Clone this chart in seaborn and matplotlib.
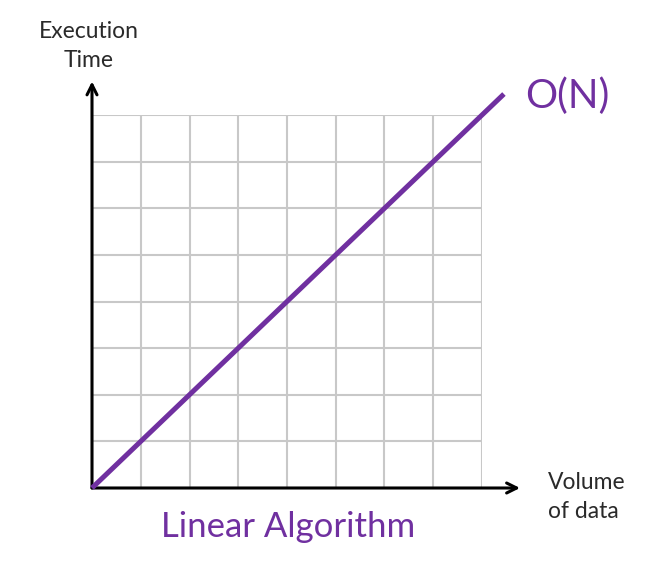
import matplotlib
matplotlib.use("Agg")
import matplotlib.pyplot as plt
import seaborn as sns
import pandas as pd

# data
volume = [0, 8.45]
exec_time = [0, 8.45]
grid_ticks = [0, 1, 2, 3, 4, 5, 6, 7, 8]

sns.set_style("white")
plt.rcParams['font.family'] = ['Lato', 'DejaVu Sans']

purple = "#7030a0"
W, H = 652, 566
fig = plt.figure(figsize=(W / 100, H / 100), dpi=100)
ax = fig.add_axes([92 / W, 1 - 488 / H, (482 - 92) / W, (488 - 115) / H])
ax.set_xlim(0, 8)
ax.set_ylim(0, 8)

for t in grid_ticks:
    ax.axvline(t, color="#c8c8c8", lw=1.5, zorder=1)
    ax.axhline(t, color="#c8c8c8", lw=1.5, zorder=1)

df = pd.DataFrame({"volume": volume, "time": exec_time})
sns.lineplot(data=df, x="volume", y="time", color=purple, lw=3.6, ax=ax,
             clip_on=False, zorder=4, solid_capstyle="butt")

# axes arrows
ax.annotate("", xy=(0, 8.72), xytext=(0, 0), annotation_clip=False,
            arrowprops=dict(arrowstyle="->", lw=2.2, color="black",
                            mutation_scale=18, shrinkA=0, shrinkB=0), zorder=3)
ax.annotate("", xy=(8.78, 0), xytext=(0, 0), annotation_clip=False,
            arrowprops=dict(arrowstyle="->", lw=2.2, color="black",
                            mutation_scale=18, shrinkA=0, shrinkB=0), zorder=3)

for s in ax.spines.values():
    s.set_visible(False)
ax.set_xticks([])
ax.set_yticks([])
ax.set_xlabel("")
ax.set_ylabel("")

fig.text(567 / W, 1 - 96 / H, "O(N)", color=purple, fontsize=29,
         ha="center", va="center")
fig.text(288 / W, 1 - 527 / H, "Linear Algorithm", color=purple, fontsize=25,
         ha="center", va="center")
fig.text(89 / W, 1 - 46 / H, "Execution\nTime", color="#2a2a2a", fontsize=16.5,
         ha="center", va="center", linespacing=1.42)
fig.text(548 / W, 1 - 497 / H, "Volume\nof data", color="#2a2a2a", fontsize=16.5,
         ha="left", va="center", linespacing=1.42, multialignment="left")

fig.savefig("out.png", dpi=100)
